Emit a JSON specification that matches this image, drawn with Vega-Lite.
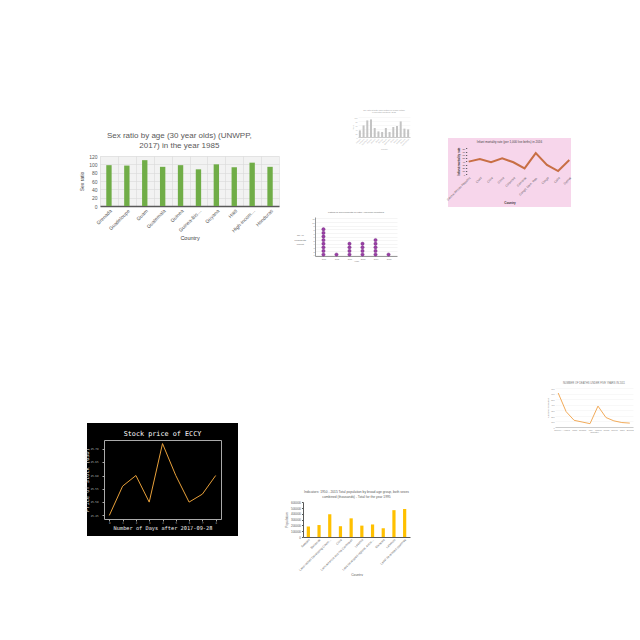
{
  "$schema": "https://vega.github.io/schema/vega-lite/v6.json",
  "padding": 0,
  "background": "white",
  "spacing": 0,
  "bounds": "flush",
  "config": {
    "view": {"stroke": null},
    "concat": {"spacing": 0},
    "axis": {"labelFont": "Liberation Sans", "titleFont": "Liberation Sans", "titleFontWeight": "normal", "labelOverlap": false},
    "title": {"font": "Liberation Sans", "fontWeight": "normal"}
  },
  "hconcat": [
    {"width": 100, "height": 1, "data": {"values": []}, "mark": "point", "encoding": {}},
    {
      "spacing": 0, "bounds": "flush",
      "vconcat": [
        {"width": 1, "height": 156, "data": {"values": []}, "mark": "point", "encoding": {}},
        {
          "width": 179, "height": 50,
          "title": {"text": ["Sex ratio by age (30 year olds) (UNWPP,", "2017) in the year 1985"], "fontSize": 8, "lineHeight": 10.5, "color": "#595959", "frame": "bounds", "offset": 4},
          "view": {"fill": "#f2f2f2"},
          "data": {"values": [
            {"country": "Grenada", "ratio": 98},
            {"country": "Guadeloupe", "ratio": 97},
            {"country": "Guam", "ratio": 110},
            {"country": "Guatemala", "ratio": 94},
            {"country": "Guinea", "ratio": 98},
            {"country": "Guinea-Bissau", "ratio": 88},
            {"country": "Guyana", "ratio": 100},
            {"country": "Haiti", "ratio": 93},
            {"country": "High-income countries", "ratio": 104},
            {"country": "Honduras", "ratio": 94}
          ]},
          "mark": {"type": "bar", "color": "#70ad47", "width": {"band": 0.3}},
          "encoding": {
            "x": {"field": "country", "type": "nominal", "sort": null,
              "scale": {"paddingInner": 0, "paddingOuter": 0},
              "axis": {"title": "Country", "labelAngle": -45, "labelFontSize": 5, "labelColor": "#595959", "labelLimit": 32, "labelPadding": 2,
                "tickBand": "extent", "grid": true, "gridColor": "#d9d9d9", "gridWidth": 0.6, "ticks": false,
                "domainColor": "#595959", "domainWidth": 1.5, "titleFontSize": 5.5, "titleColor": "#404040", "titlePadding": 3}},
            "y": {"field": "ratio", "type": "quantitative", "scale": {"domain": [0, 120]},
              "axis": {"values": [0, 20, 40, 60, 80, 100, 120], "title": "Sex ratio", "grid": true, "gridColor": "#d9d9d9", "gridWidth": 0.6,
                "domain": false, "ticks": false, "labelFontSize": 5, "labelColor": "#595959", "labelPadding": 3,
                "titleFontSize": 5, "titleColor": "#404040", "titlePadding": 4}}
          }
        },
        {"width": 1, "height": 234, "data": {"values": []}, "mark": "point", "encoding": {}},
        {
          "spacing": 0, "bounds": "flush",
          "hconcat": [
            {"width": 4, "height": 1, "data": {"values": []}, "mark": "point", "encoding": {}},
            {
              "width": 117, "height": 79,
              "view": {"fill": "#000000", "stroke": "#000000", "strokeWidth": 34},
              "title": {"text": "Stock price of ECCY", "font": "DejaVu Sans Mono", "fontSize": 6.8, "color": "#ffffff", "offset": 2},
              "data": {"values": [
                {"day": 0, "price": 25.45},
                {"day": 1, "price": 25.56},
                {"day": 2, "price": 25.60},
                {"day": 3, "price": 25.50},
                {"day": 4, "price": 25.72},
                {"day": 5, "price": 25.60},
                {"day": 6, "price": 25.50},
                {"day": 7, "price": 25.53},
                {"day": 8, "price": 25.60}
              ]},
              "layer": [
                {
                  "mark": {"type": "line", "color": "#e8a03a", "strokeWidth": 1},
                  "encoding": {
                    "x": {"field": "day", "type": "quantitative", "scale": {"domain": [-0.4, 8.4], "nice": false, "zero": false},
                      "axis": {"values": [0, 1, 2, 3, 4, 5, 6, 7, 8], "grid": false, "labelFont": "DejaVu Sans Mono", "labelFontSize": 2.6, "labelColor": "#bbbbbb",
                        "tickSize": 2, "tickColor": "#aaaaaa", "domainColor": "#aaaaaa", "labelPadding": 1, "labelFlush": false,
                        "title": "Number of Days after 2017-09-28", "titleFont": "DejaVu Sans Mono", "titleFontSize": 5.3, "titleColor": "#eeeeee", "titlePadding": 1}},
                    "y": {"field": "price", "type": "quantitative", "scale": {"domain": [25.4365, 25.7335], "nice": false, "zero": false},
                      "axis": {"values": [25.45, 25.5, 25.55, 25.6, 25.65, 25.7], "format": ".2f", "grid": false, "labelFont": "DejaVu Sans Mono", "labelFontSize": 2.6, "labelColor": "#bbbbbb",
                        "tickSize": 2, "tickColor": "#aaaaaa", "domainColor": "#aaaaaa", "labelPadding": 4, "labelFlush": false,
                        "title": "Price of Stock (USD)", "titleFont": "DejaVu Sans Mono", "titleFontSize": 5.3, "titleColor": "#eeeeee", "titlePadding": 1}}
                  }
                },
                {
                  "mark": {"type": "line", "opacity": 0},
                  "encoding": {
                    "x": {"field": "day", "type": "quantitative", "axis": {"orient": "top", "labels": false, "ticks": false, "grid": false, "title": null, "domainColor": "#aaaaaa"}},
                    "y": {"field": "price", "type": "quantitative", "axis": {"orient": "right", "labels": false, "ticks": false, "grid": false, "title": null, "domainColor": "#aaaaaa"}}
                  }
                }
              ],
              "resolve": {"axis": {"x": "independent", "y": "independent"}}
            }
          ]
        }
      ]
    },
    {"width": 203, "height": 1, "data": {"values": []}, "mark": "point", "encoding": {}},
    {
      "spacing": 0, "bounds": "flush",
      "vconcat": [
        {"width": 1, "height": 117, "data": {"values": []}, "mark": "point", "encoding": {}},
        {
          "spacing": 0, "bounds": "flush",
          "hconcat": [
            {"width": 55, "height": 1, "data": {"values": []}, "mark": "point", "encoding": {}},
            {
              "width": 52, "height": 20,
              "title": {"text": ["Sex ratio at birth (male births per female births)", "in selected countries, 2015"], "fontSize": 2, "lineHeight": 2.5, "color": "#999999", "offset": 4},
              "data": {"values": [
                {"country": "Albania", "v": 33},
                {"country": "Armenia", "v": 58},
                {"country": "Azerbaijan", "v": 83},
                {"country": "Bahrain", "v": 88},
                {"country": "Belarus", "v": 45},
                {"country": "Benin", "v": 28},
                {"country": "Bhutan", "v": 25},
                {"country": "Bolivia", "v": 45},
                {"country": "Botswana", "v": 25},
                {"country": "Brazil", "v": 50},
                {"country": "Brunei", "v": 55},
                {"country": "Bulgaria", "v": 78},
                {"country": "Burundi", "v": 42},
                {"country": "Cabo Verde", "v": 38}
              ]},
              "mark": {"type": "bar", "color": "#c4c4c4", "width": {"band": 0.6}},
              "encoding": {
                "x": {"field": "country", "type": "nominal", "sort": null,
                  "axis": {"title": "Country", "labelAngle": -45, "labelFontSize": 1.8, "labelColor": "#aaaaaa", "ticks": false, "domainColor": "#cccccc", "titleFontSize": 2, "titleColor": "#aaaaaa", "labelPadding": 1, "titlePadding": 1}},
                "y": {"field": "v", "type": "quantitative", "scale": {"domain": [0, 100]},
                  "axis": {"values": [0, 20, 40, 60, 80, 100], "labelFontSize": 1.8, "labelColor": "#aaaaaa", "grid": true, "gridColor": "#eeeeee", "gridWidth": 0.4, "domain": false, "ticks": false, "title": "Ratio", "titleFontSize": 2, "titleColor": "#aaaaaa", "labelPadding": 1, "titlePadding": 1}}
              }
            }
          ]
        },
        {"width": 1, "height": 100, "data": {"values": []}, "mark": "point", "encoding": {}},
        {
          "spacing": 0, "bounds": "flush",
          "hconcat": [
            {"width": 12, "height": 1, "data": {"values": []}, "mark": "point", "encoding": {}},
            {
              "width": 82, "height": 39,
              "title": {"text": "Listing of governments in Latin American countries", "fontSize": 2.5, "color": "#666666", "offset": 3},
              "data": {"values": [
                {"year": "1990", "n": 1}, {"year": "1990", "n": 2}, {"year": "1990", "n": 3}, {"year": "1990", "n": 4},
                {"year": "1990", "n": 5}, {"year": "1990", "n": 6}, {"year": "1990", "n": 7}, {"year": "1990", "n": 8},
                {"year": "1995", "n": 1},
                {"year": "2000", "n": 1}, {"year": "2000", "n": 2}, {"year": "2000", "n": 3}, {"year": "2000", "n": 4},
                {"year": "2005", "n": 1}, {"year": "2005", "n": 2}, {"year": "2005", "n": 3}, {"year": "2005", "n": 4},
                {"year": "2010", "n": 1}, {"year": "2010", "n": 2}, {"year": "2010", "n": 3}, {"year": "2010", "n": 4}, {"year": "2010", "n": 5},
                {"year": "2015", "n": 1}
              ]},
              "mark": {"type": "point", "filled": true, "size": 11, "color": "#9b3fa6", "stroke": "#6b2479", "strokeWidth": 0.4, "opacity": 1},
              "encoding": {
                "x": {"field": "year", "type": "ordinal", "scale": {"type": "point", "padding": 0.65},
                  "axis": {"title": "Year", "labelAngle": 0, "labelFontSize": 2, "labelColor": "#777777", "ticks": false, "domainColor": "#999999", "titleFontSize": 2.5, "titleColor": "#777777", "labelPadding": 1, "titlePadding": 1}},
                "y": {"field": "n", "type": "quantitative", "scale": {"domain": [0.6, 11.4], "nice": false, "zero": false},
                  "axis": {"values": [1, 2, 3, 4, 5, 6, 7, 8, 9, 10, 11], "labelFontSize": 2, "labelColor": "#777777", "grid": true, "gridColor": "#e6e6e6", "gridWidth": 0.4, "domainColor": "#999999", "ticks": false, "title": ["No. of", "presidents", "(count)"], "titleAngle": 0, "titleAlign": "center", "titleFontSize": 2.5, "titleColor": "#666666", "labelPadding": 1, "titlePadding": 3}}
              }
            }
          ]
        },
        {"width": 1, "height": 285, "data": {"values": []}, "mark": "point", "encoding": {}},
        {
          "width": 107, "height": 35,
          "title": {"text": ["Indicators: 1950 - 2015 Total population by broad age group, both sexes", "combined (thousands) - Total for the year 1995"], "fontSize": 3.3, "lineHeight": 5, "color": "#595959", "offset": 3},
          "data": {"values": [
            {"country": "Sweden", "pop": 180000},
            {"country": "Bahamas", "pop": 205000},
            {"country": "Land-locked Developing Countries", "pop": 390000},
            {"country": "Chile", "pop": 185000},
            {"country": "Latin America and the Caribbean", "pop": 320000},
            {"country": "Lesotho", "pop": 195000},
            {"country": "Less developed regions, excluding China", "pop": 215000},
            {"country": "Malaysia", "pop": 150000},
            {"country": "Lebanon", "pop": 460000},
            {"country": "Least developed countries", "pop": 480000}
          ]},
          "mark": {"type": "bar", "color": "#ffc000", "width": {"band": 0.3}},
          "encoding": {
            "x": {"field": "country", "type": "nominal", "sort": null, "scale": {"paddingInner": 0, "paddingOuter": 0},
              "axis": {"title": "Country", "labelAngle": -45, "labelFontSize": 3, "labelColor": "#595959", "labelLimit": 45, "ticks": false, "domainColor": "#595959", "titleFontSize": 3.3, "titleColor": "#595959", "labelPadding": 1, "titlePadding": 1}},
            "y": {"field": "pop", "type": "quantitative", "scale": {"domain": [0, 600000]},
              "axis": {"values": [0, 100000, 200000, 300000, 400000, 500000, 600000], "format": "d", "labelFontSize": 3, "labelColor": "#595959", "grid": false, "domainColor": "#595959", "tickSize": 1.5, "tickColor": "#595959", "title": "Population", "titleFontSize": 3.3, "titleColor": "#595959", "labelPadding": 1, "titlePadding": 2}}
          }
        }
      ]
    },
    {"width": 145, "height": 1, "data": {"values": []}, "mark": "point", "encoding": {}},
    {
      "spacing": 0, "bounds": "flush",
      "vconcat": [
        {"width": 1, "height": 138, "data": {"values": []}, "mark": "point", "encoding": {}},
        {
          "width": 123, "height": 69,
          "view": {"fill": "#f7d6eb"},
          "title": {"text": "Infant mortality rate (per 1,000 live births) in 2016", "fontSize": 3, "color": "#444444", "offset": -6},
          "data": {"values": [
            {"country": "Central African Republic", "rate": 39},
            {"country": "Chad", "rate": 47},
            {"country": "Chile", "rate": 37},
            {"country": "China", "rate": 49},
            {"country": "Colombia", "rate": 37},
            {"country": "Comoros", "rate": 18},
            {"country": "Congo, Dem. Rep.", "rate": 65},
            {"country": "Congo", "rate": 29},
            {"country": "Cuba", "rate": 10},
            {"country": "Cyprus", "rate": 44}
          ]},
          "mark": {"type": "line", "color": "#c86f45", "strokeWidth": 2},
          "encoding": {
            "x": {"field": "country", "type": "nominal", "sort": null, "scale": {"type": "point", "padding": 1.224, "align": 0.924},
              "axis": {"orient": "bottom", "offset": -32, "domain": false, "ticks": false, "labelAngle": -45, "labelFontSize": 3, "labelColor": "#555555", "labelPadding": 1, "labelLimit": 60,
                "title": "Country", "titleFontSize": 3, "titleFontWeight": "bold", "titleColor": "#333333", "titlePadding": 0}},
            "y": {"field": "rate", "type": "quantitative", "scale": {"domain": [-100.6, 111.7], "nice": false, "zero": false},
              "axis": {"values": [0, 10, 20, 30, 40, 50, 60, 70, 80], "offset": -18.7, "domain": false, "tickSize": 1, "tickColor": "#444444", "labelFontSize": 2.5, "labelColor": "#444444", "labelPadding": 1, "grid": false,
                "title": "Infant mortality rate", "titleY": 23, "titleFontSize": 3, "titleFontWeight": "bold", "titleColor": "#333333", "titlePadding": 2}}
          }
        },
        {"width": 1, "height": 181, "data": {"values": []}, "mark": "point", "encoding": {}},
        {
          "spacing": 0, "bounds": "flush",
          "hconcat": [
            {"width": 107, "height": 1, "data": {"values": []}, "mark": "point", "encoding": {}},
            {
              "width": 78, "height": 39,
              "title": {"text": "NUMBER OF DEATHS UNDER FIVE YEARS IN 2011", "fontSize": 2.6, "color": "#777777", "offset": 2},
              "data": {"values": [
                {"country": "Sierra Leone", "deaths": 610},
                {"country": "Angola", "deaths": 275},
                {"country": "Chad", "deaths": 120},
                {"country": "Somalia", "deaths": 90},
                {"country": "Mali", "deaths": 60},
                {"country": "Nigeria", "deaths": 375},
                {"country": "Congo", "deaths": 170},
                {"country": "Guinea", "deaths": 110},
                {"country": "Niger", "deaths": 80},
                {"country": "Burundi", "deaths": 70}
              ]},
              "mark": {"type": "line", "color": "#f2ab5a", "strokeWidth": 1},
              "encoding": {
                "x": {"field": "country", "type": "nominal", "sort": null, "scale": {"type": "point", "padding": 0.4},
                  "axis": {"labelAngle": 0, "labelFontSize": 2, "labelColor": "#888888", "labelLimit": 10, "ticks": false, "domainColor": "#cccccc", "title": "Country", "titleFontSize": 2.5, "titleColor": "#888888", "labelPadding": 1, "titlePadding": 1}},
                "y": {"field": "deaths", "type": "quantitative", "scale": {"domain": [0, 700]},
                  "axis": {"values": [0, 100, 200, 300, 400, 500, 600, 700], "labelFontSize": 2, "labelColor": "#888888", "grid": true, "gridColor": "#eeeeee", "gridWidth": 0.4, "domain": false, "ticks": false, "title": "Number of deaths", "titleFontSize": 2.5, "titleColor": "#888888", "labelPadding": 1, "titlePadding": 1}}
              }
            }
          ]
        }
      ]
    }
  ]
}
